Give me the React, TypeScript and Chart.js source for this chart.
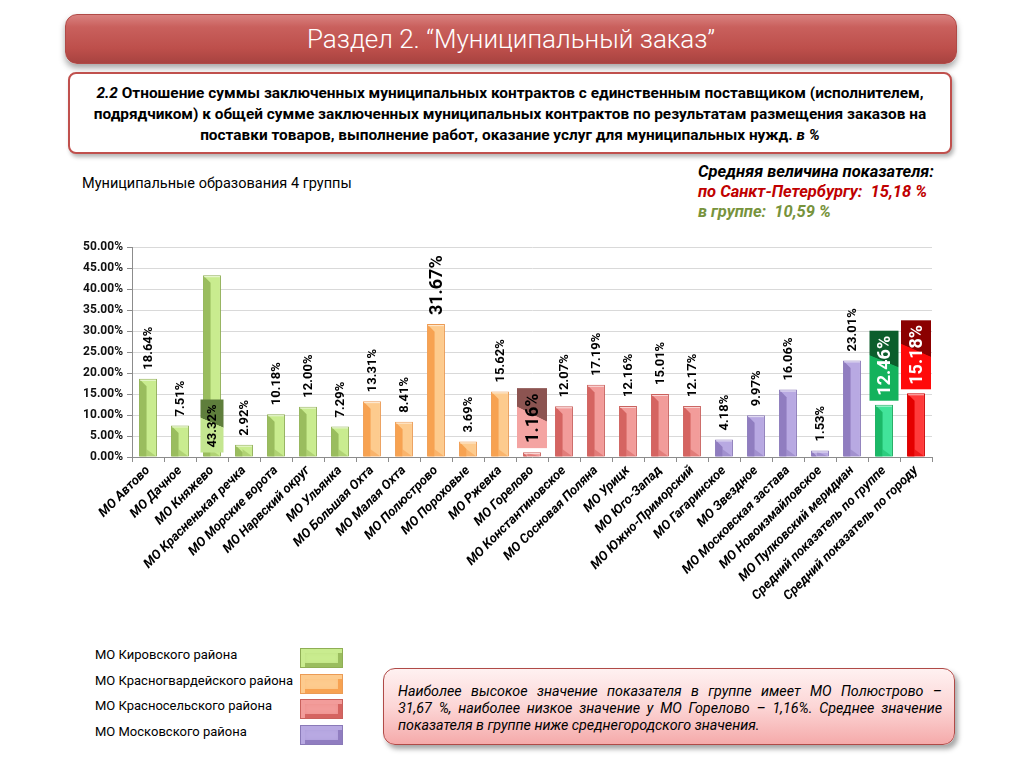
import React, { useEffect, useRef } from "react";
import { Chart, registerables } from "chart.js";
Chart.register(...registerables);

const categories = [
  "МО Автово", "МО Дачное", "МО Княжево", "МО Красненькая речка", "МО Морские ворота",
  "МО Нарвский округ", "МО Ульянка", "МО Большая Охта", "МО Малая Охта", "МО Полюстрово",
  "МО Пороховые", "МО Ржевка", "МО Горелово", "МО Константиновское", "МО Сосновая Поляна",
  "МО Урицк", "МО Юго-Запад", "МО Южно-Приморский", "МО Гагаринское", "МО Звездное",
  "МО Московская застава", "МО Новоизмайловское", "МО Пулковский меридиан",
  "Средний показатель по группе", "Средний показатель по городу",
];
const values = [
  18.64, 7.51, 43.32, 2.92, 10.18, 12.0, 7.29, 13.31, 8.41, 31.67, 3.69, 15.62,
  1.16, 12.07, 17.19, 12.16, 15.01, 12.17, 4.18, 9.97, 16.06, 1.53, 23.01, 12.46, 15.18,
];
const groups = [
  "kir", "kir", "kir", "kir", "kir", "kir", "kir",
  "krg", "krg", "krg", "krg", "krg",
  "krs", "krs", "krs", "krs", "krs", "krs",
  "mos", "mos", "mos", "mos", "mos",
  "grp", "city",
];
const legendNames = ["МО Кировского района", "МО Красногвардейского района", "МО Красносельского района", "МО Московского района"];
const legendGroups = ["kir", "krg", "krs", "mos"];
const yTicks = [0, 5, 10, 15, 20, 25, 30, 35, 40, 45, 50];
const noteLines = [
  "Наиболее высокое значение показателя в группе имеет МО Полюстрово –",
  "31,67 %, наиболее низкое значение у МО Горелово – 1,16%. Среднее значение",
  "показателя в группе ниже среднегородского значения.",
];

const groupColors: Record<string, { light: string; dark: string; border: string }> = {
  kir: { light: "#c9ec8f", dark: "#9abd5e", border: "#8fae55" },
  krg: { light: "#fdcb8e", dark: "#f7a251", border: "#eb9b55" },
  krs: { light: "#f29c9a", dark: "#d56461", border: "#c9615d" },
  mos: { light: "#b8a9e2", dark: "#907dc0", border: "#8a7ab8" },
  grp: { light: "#42e49a", dark: "#1bb967", border: "#18a85a" },
  city: { light: "#ff3b3b", dark: "#e40000", border: "#cc0000" },
};

// special label boxes (style only), keyed by category
const labelBoxes: Record<string, { anchor: string; w: number; h: number; font: number; text: string; light: string; dark: string }> = {
  "МО Княжево": { anchor: "base", w: 23, h: 53, font: 13, text: "#000", light: "#c4e690", dark: "#5f7e3c" },
  "МО Горелово": { anchor: "top", w: 30, h: 60, font: 18, text: "#000", light: "#f4a4a2", dark: "#8c5451" },
  "Средний показатель по группе": { anchor: "top", w: 29, h: 70, font: 18, text: "#fff", light: "#14b25c", dark: "#0b5e2c" },
  "Средний показатель по городу": { anchor: "top", w: 30, h: 69, font: 18, text: "#fff", light: "#ff0a0a", dark: "#8b0000" },
};
const bigLabels: Record<string, number> = { "МО Полюстрово": 18 };

const FONT = "Roboto, 'Noto Sans', sans-serif";
const fmt = (v: number) => v.toFixed(2) + "%";

const barPlugin = {
  id: "bars3d",
  afterDatasetsDraw(chart: any) {
    const ctx = chart.ctx as CanvasRenderingContext2D;
    const meta = chart.getDatasetMeta(0);
    meta.data.forEach((el: any, i: number) => {
      const { x, y, base, width } = el.getProps(["x", "y", "base", "width"], true);
      const c = groupColors[groups[i]];
      const x0 = x - width / 2;
      const h = base - y;
      const s = Math.min(width * 0.42, h);
      ctx.save();
      ctx.fillStyle = c.dark;
      ctx.beginPath();
      ctx.moveTo(x0 + 0.5, y + 0.5);
      ctx.lineTo(x0 + s, y + s);
      ctx.lineTo(x0 + s, base);
      ctx.lineTo(x0 + 0.5, base);
      ctx.closePath();
      ctx.fill();
      const b = Math.min(width * 0.5, h);
      ctx.globalAlpha = 0.55;
      ctx.beginPath();
      ctx.moveTo(x0 + s, base - b * 0.8);
      ctx.lineTo(x0 + width - 0.5, base);
      ctx.lineTo(x0 + s, base);
      ctx.closePath();
      ctx.fill();
      ctx.globalAlpha = 1;
      ctx.strokeStyle = "rgba(255,255,255,0.6)";
      ctx.lineWidth = 1;
      ctx.beginPath();
      ctx.moveTo(x0 + 1, y + 1.5);
      ctx.lineTo(x0 + width - 1, y + 1.5);
      ctx.stroke();
      ctx.restore();
    });

    meta.data.forEach((el: any, i: number) => {
      const { x, y, base } = el.getProps(["x", "y", "base"], true);
      const name = categories[i];
      const txt = fmt(values[i]);
      const box = labelBoxes[name];
      ctx.save();
      if (box) {
        const bottom = box.anchor === "base" ? base - 4 : y - 4;
        const top = bottom - box.h;
        const left = x - box.w / 2;
        const g = ctx.createLinearGradient(left, bottom, left + box.w, top);
        g.addColorStop(0, box.light);
        g.addColorStop(0.55, box.light);
        g.addColorStop(0.56, box.dark);
        g.addColorStop(1, box.dark);
        ctx.fillStyle = g;
        ctx.fillRect(left, top, box.w, box.h);
        ctx.translate(x, (top + bottom) / 2);
        ctx.rotate(-Math.PI / 2);
        ctx.fillStyle = box.text;
        ctx.font = `bold ${box.font}px ${FONT}`;
        ctx.textAlign = "center";
        ctx.textBaseline = "middle";
        ctx.fillText(txt, 0, 1);
      } else {
        const size = bigLabels[name] || 13;
        ctx.translate(x + 1, y - 9);
        ctx.rotate(-Math.PI / 2);
        ctx.fillStyle = "#000";
        ctx.font = `bold ${size}px ${FONT}`;
        ctx.textAlign = "left";
        ctx.textBaseline = "middle";
        ctx.fillText(txt, 0, 0);
      }
      ctx.restore();
    });
  },
};

function ChartBox() {
  const ref = useRef<HTMLCanvasElement | null>(null);
  useEffect(() => {
    if (!ref.current) return;
    const chart = new Chart(ref.current, {
      type: "bar",
      data: {
        labels: categories,
        datasets: [
          {
            data: values,
            backgroundColor: groups.map((g) => groupColors[g].light),
            borderColor: groups.map((g) => groupColors[g].border),
            borderWidth: 1,
            barPercentage: 0.56,
            categoryPercentage: 1,
          },
        ],
      },
      options: {
        responsive: false,
        animation: false,
        devicePixelRatio: 1,
        layout: { padding: { top: 8, right: 28, left: 0, bottom: 0 } },
        plugins: { legend: { display: false }, tooltip: { enabled: false } },
        scales: {
          x: {
            grid: { display: true, drawOnChartArea: false, drawTicks: true, tickLength: 5, color: "#8c8c8c", offset: true },
            border: { color: "#8c8c8c" },
            ticks: {
              autoSkip: false,
              minRotation: 45,
              maxRotation: 45,
              padding: 1,
              color: "#000",
              font: { family: FONT, size: 13, weight: "bold", style: "italic" },
            },
            afterFit: (s: any) => {
              s.height = 183;
            },
          },
          y: {
            min: 0,
            max: 50,
            afterBuildTicks: (s: any) => {
              s.ticks = yTicks.map((v) => ({ value: v }));
            },
            grid: { color: "#d9d9d9", tickLength: 5, tickColor: "#8c8c8c" },
            border: { color: "#8c8c8c" },
            ticks: {
              color: "#111",
              padding: 4,
              font: { family: FONT, size: 12, weight: "bold" },
              callback: (v: any) => Number(v).toFixed(2) + "%",
            },
            afterFit: (s: any) => {
              s.width = 72;
            },
          },
        },
      },
      plugins: [barPlugin],
    } as any);
    return () => chart.destroy();
  }, []);
  return <canvas ref={ref} width={900} height={404} style={{ position: "absolute", left: 60, top: 236, width: 900, height: 404 }} />;
}

export default function App() {
  return (
    <div style={{ position: "fixed", left: 0, top: 0, width: 1024, height: 768, background: "#fff", fontFamily: FONT, overflow: "hidden" }}>
      <div
        style={{
          position: "absolute", left: 65, top: 14, width: 890, height: 48, borderRadius: 12,
          background: "linear-gradient(to bottom, #d9817f 0%, #c9605d 25%, #bd4f4b 70%, #a84340 100%)",
          boxShadow: "0 4px 6px rgba(0,0,0,0.35)", border: "1px solid #b04a47",
          display: "flex", alignItems: "center", justifyContent: "center",
          color: "#fff", fontSize: 26, fontWeight: 300,
        }}
      >
        Раздел 2. “Муниципальный заказ”
      </div>
      <div
        style={{
          position: "absolute", left: 68, top: 72, width: 884, height: 82, borderRadius: 8,
          border: "2px solid #c0504d", background: "#fff", boxShadow: "2px 3px 4px rgba(0,0,0,0.3)",
          textAlign: "center", fontSize: 15.4, fontWeight: 700, lineHeight: "21px", color: "#000",
          paddingTop: 9, boxSizing: "border-box", whiteSpace: "nowrap",
        }}
      >
        <div><i>2.2</i> Отношение суммы заключенных муниципальных контрактов с единственным поставщиком (исполнителем,</div>
        <div>подрядчиком) к общей сумме заключенных муниципальных контрактов по результатам размещения заказов на</div>
        <div>поставки товаров, выполнение работ, оказание услуг для муниципальных нужд. <i>в %</i></div>
      </div>
      <div style={{ position: "absolute", left: 82, top: 175, fontSize: 14.5, color: "#000" }}>
        Муниципальные образования 4 группы
      </div>
      <div style={{ position: "absolute", left: 698, top: 162, fontSize: 16.5, fontWeight: 700, fontStyle: "italic", lineHeight: "20px", whiteSpace: "nowrap" }}>
        <div style={{ color: "#000" }}>Средняя величина показателя:</div>
        <div style={{ color: "#c00000" }}>по Санкт-Петербургу:&nbsp; 15,18 %</div>
        <div style={{ color: "#77933c" }}>в группе:&nbsp; 10,59 %</div>
      </div>
      <ChartBox />
      {legendNames.map((n, i) => (
        <React.Fragment key={n}>
          <div style={{ position: "absolute", left: 95, top: 647 + i * 25.7, fontSize: 13, color: "#000" }}>{n}</div>
          <div
            style={{
              position: "absolute", left: 300, top: 648 + i * 25.7, width: 43, height: 20,
              background: groupColors[legendGroups[i]].light,
              boxShadow: `inset 4px 4px 0 ${groupColors[legendGroups[i]].light}, inset -4px -4px 0 ${groupColors[legendGroups[i]].dark}, inset 0 0 6px ${groupColors[legendGroups[i]].dark}`,
              border: `1px solid ${groupColors[legendGroups[i]].border}`, boxSizing: "border-box",
            }}
          />
        </React.Fragment>
      ))}
      <div
        style={{
          position: "absolute", left: 383, top: 668, width: 572, height: 77, borderRadius: 12,
          border: "1px solid #b04a47",
          background: "linear-gradient(to bottom, #fff1f1 0%, #fcd6d6 50%, #f5aaaa 100%)",
          boxShadow: "3px 4px 5px rgba(0,0,0,0.35)", boxSizing: "border-box",
          padding: "14px 12px 0 14px", fontSize: 14.3, fontStyle: "italic", lineHeight: "17px",
          color: "#000", whiteSpace: "nowrap",
        }}
      >
        {noteLines.map((l, i) => (
          <div key={i} style={{ textAlign: i < noteLines.length - 1 ? "justify" : "left", textAlignLast: i < noteLines.length - 1 ? "justify" : "left", whiteSpace: "normal" }}>
            {l}
          </div>
        ))}
      </div>
    </div>
  );
}
